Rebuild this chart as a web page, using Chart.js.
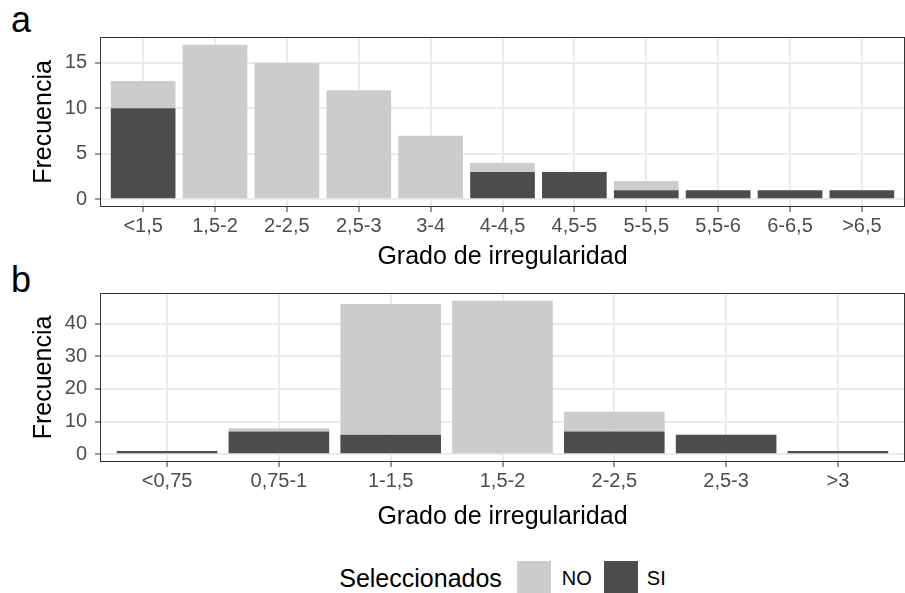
<!DOCTYPE html>
<html>
<head>
<meta charset="utf-8">
<script src="https://cdn.jsdelivr.net/npm/chart.js@4.4.1/dist/chart.umd.min.js"></script>
<style>
  body { margin: 0; background: #fff; width: 905px; height: 593px; position: relative; overflow: hidden;
         font-family: "Liberation Sans", Arial, sans-serif; }
  .panel { position: absolute; left: 0; width: 905px; }
  .tag { position: absolute; left: 11px; font-size: 36px; color: #000; line-height: 1; }
  #legend { position: absolute; left: 100px; width: 805px; top: 561px; height: 34px; display: flex;
            justify-content: center; align-items: center; }
  #legend .title { font-size: 25px; color: #000; margin-right: 15px; }
  #legend .key { width: 34px; height: 34px; }
  #legend .lab { font-size: 20px; color: #000; margin: 0 12px 0 11px; }
  #legend .lab:last-child { margin-right: 0; margin-left: 9px; }
</style>
</head>
<body>
<div class="tag" style="top:2px">a</div>
<div class="tag" style="top:262px">b</div>
<div class="panel" style="top:0;height:270px"><canvas id="chartA" width="905" height="270"></canvas></div>
<div class="panel" style="top:270px;height:260px"><canvas id="chartB" width="905" height="260"></canvas></div>
<div id="legend"></div>
<script>
// panel a
var catsA = ['<1,5', '1,5-2', '2-2,5', '2,5-3', '3-4', '4-4,5', '4,5-5', '5-5,5', '5,5-6', '6-6,5', '>6,5'];
var siA = [10, 0, 0, 0, 0, 3, 3, 1, 1, 1, 1];
var noA = [3, 17, 15, 12, 7, 1, 0, 1, 0, 0, 0];
var yTicksA = [0, 5, 10, 15];

// panel b
var catsB = ['<0,75', '0,75-1', '1-1,5', '1,5-2', '2-2,5', '2,5-3', '>3'];
var siB = [1, 7, 6, 0, 7, 6, 1];
var noB = [0, 1, 40, 47, 6, 0, 0];
var yTicksB = [0, 10, 20, 30, 40];

var seriesNames = ['NO', 'SI'];
var NO_COLOR = '#CCCCCC';
var SI_COLOR = '#4D4D4D';
var FONT = '"Liberation Sans", Arial, sans-serif';
var GRID = '#EBEBEB';
var INK = '#333333';

// panel border like theme_bw
var framePlugin = {
    id: 'frame',
    afterDatasetsDraw: function (chart) {
        var a = chart.chartArea, c = chart.ctx;
        c.save();
        c.strokeStyle = INK;
        c.lineWidth = 1;
        c.strokeRect(a.left + 0.5, a.top + 0.5, a.right - a.left - 1, a.bottom - a.top - 1);
        c.restore();
    }
};

function makeChart(id, cats, si, no, majors, padTop, xHeight) {
    var totals = si.map(function (v, i) { return v + no[i]; });
    var top = Math.max.apply(null, totals);
    var step = majors[1] - majors[0];
    var yTicks = [];
    for (var v = 0; v <= top * 1.05; v += step / 2) yTicks.push(v);
    var isMajor = function (val) { return majors.indexOf(val) >= 0; };

    return new Chart(document.getElementById(id), {
        type: 'bar',
        data: {
            datasets: [
                { label: seriesNames[1], backgroundColor: SI_COLOR,
                  data: si.map(function (v, i) { return { x: i + 1, y: v }; }) },
                { label: seriesNames[0], backgroundColor: NO_COLOR,
                  data: no.map(function (v, i) { return { x: i + 1, y: v }; }) }
            ]
        },
        options: {
            responsive: false,
            animation: false,
            barPercentage: 0.9,
            categoryPercentage: 1,
            layout: { padding: { top: padTop, right: 0, left: 0, bottom: 0 } },
            plugins: { legend: { display: false }, tooltip: { enabled: false } },
            scales: {
                x: {
                    type: 'linear',
                    stacked: true,
                    offset: false,
                    min: 0.4,
                    max: cats.length + 0.6,
                    afterBuildTicks: function (s) { s.ticks = cats.map(function (c, i) { return { value: i + 1 }; }); },
                    afterFit: function (s) { s.height = xHeight; },
                    border: { display: false },
                    grid: { offset: false, color: GRID, lineWidth: 2, tickColor: INK, tickLength: 5, tickWidth: 1 },
                    ticks: {
                        autoSkip: false, maxRotation: 0, padding: 2, color: '#4D4D4D',
                        font: { family: FONT, size: 20 },
                        callback: function (val) { return cats[Math.round(val) - 1]; }
                    },
                    title: { display: true, text: 'Grado de irregularidad', color: '#000',
                             font: { family: FONT, size: 25, lineHeight: 1 }, padding: { top: 0, bottom: 0 } }
                },
                y: {
                    stacked: true,
                    min: -top * 0.05,
                    max: top * 1.05,
                    afterBuildTicks: function (s) { s.ticks = yTicks.map(function (t) { return { value: t }; }); },
                    afterFit: function (s) { s.width = 100; },
                    border: { display: false },
                    grid: {
                        color: GRID,
                        lineWidth: function (ctx) { return isMajor(ctx.tick.value) ? 2 : 1; },
                        tickColor: function (ctx) { return isMajor(ctx.tick.value) ? INK : 'rgba(0,0,0,0)'; },
                        tickLength: 5, tickWidth: 1
                    },
                    ticks: {
                        padding: 8, color: '#4D4D4D', font: { family: FONT, size: 20 },
                        callback: function (val) { return isMajor(val) ? String(val) : ''; }
                    },
                    title: { display: true, text: 'Frecuencia', color: '#000',
                             font: { family: FONT, size: 25, lineHeight: 1 }, padding: { top: 32, bottom: 0 } }
                }
            }
        },
        plugins: [framePlugin]
    });
}

var chartA = makeChart('chartA', catsA, siA, noA, yTicksA, 37, 63);
var chartB = makeChart('chartB', catsB, siB, noB, yTicksB, 23, 68);

// legend, NO first as in the figure
var lg = document.getElementById('legend');
var html = '<span class="title">Seleccionados</span>';
[[seriesNames[0], NO_COLOR], [seriesNames[1], SI_COLOR]].forEach(function (it) {
    html += '<span class="key" style="background:' + it[1] + '"></span><span class="lab">' + it[0] + '</span>';
});
lg.innerHTML = html;
</script>
</body>
</html>
